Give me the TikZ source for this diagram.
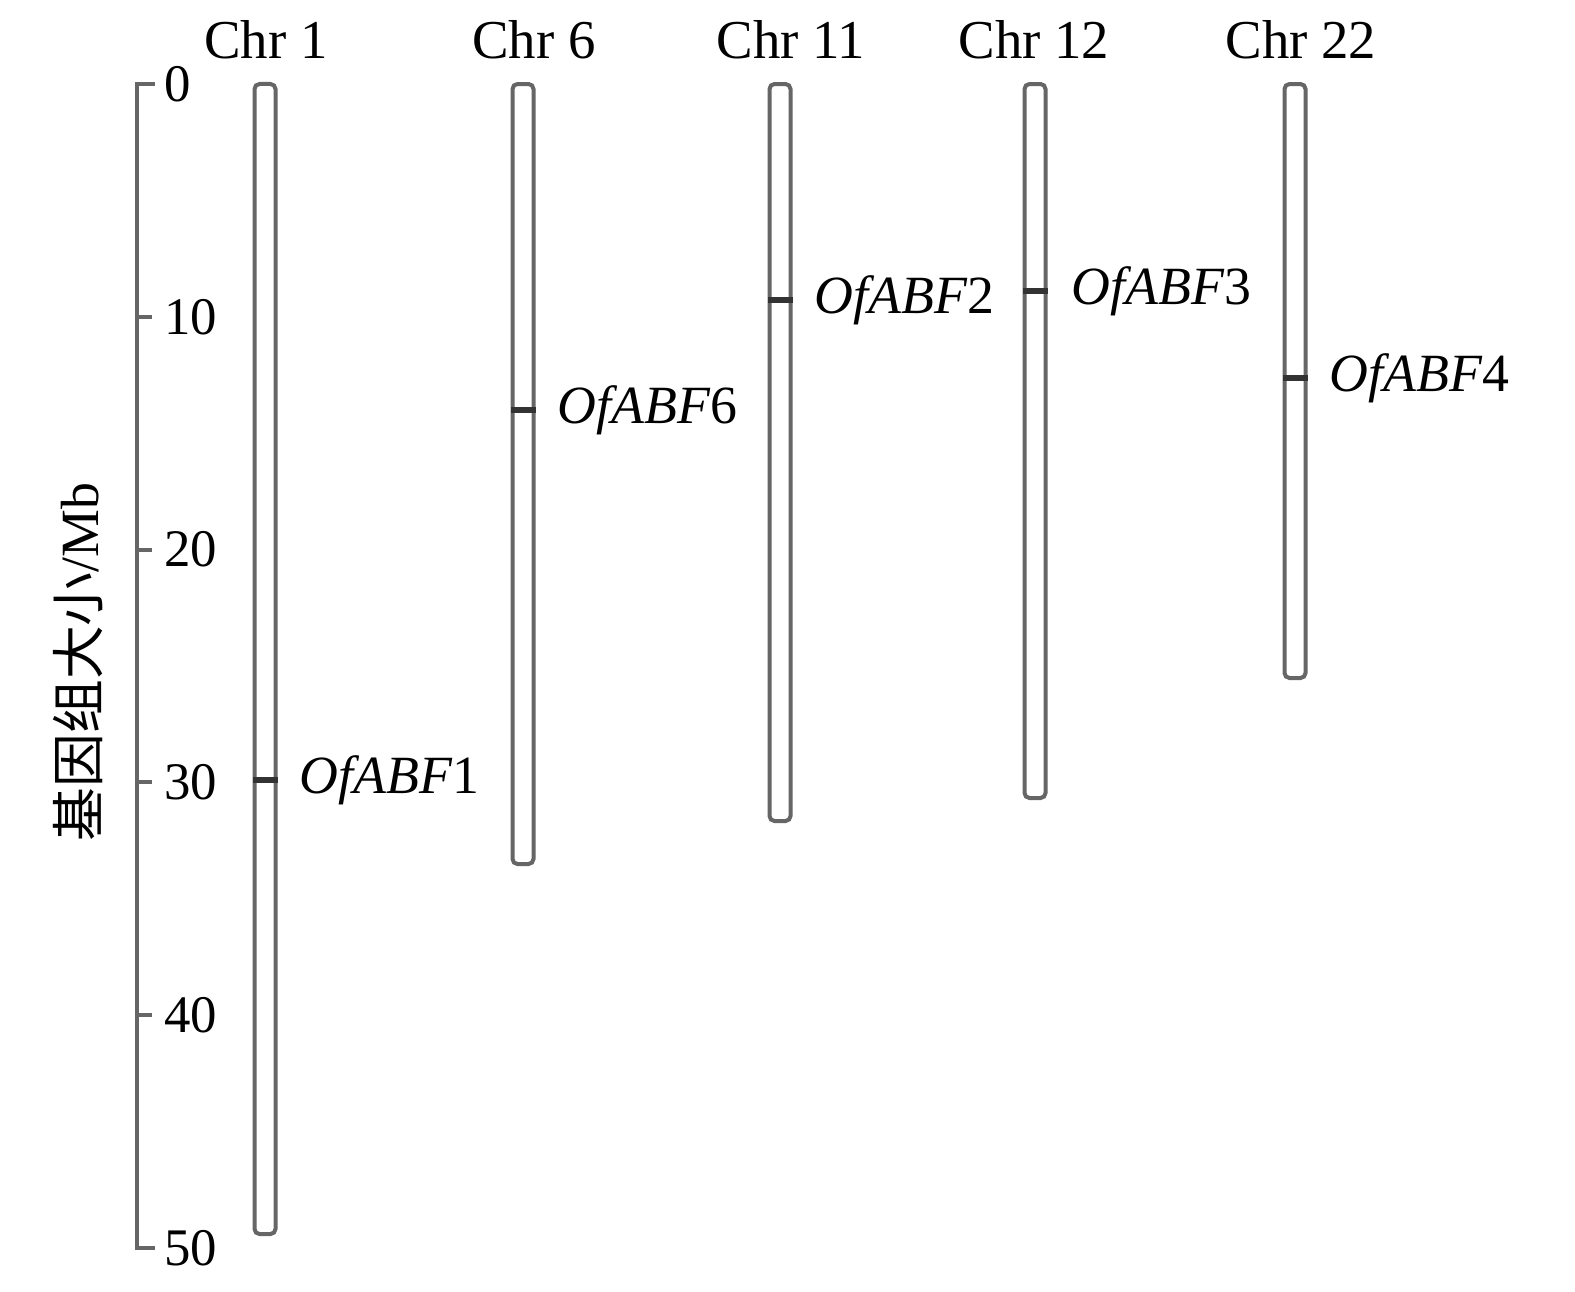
\documentclass[tikz,border=0pt]{standalone}
\usepackage{fontspec}
\setmainfont{Liberation Serif}
\newfontfamily\cjk{Noto Sans CJK SC}
\begin{document}
\begin{tikzpicture}[x=1bp,y=-1bp,
  chrom/.style={draw=black!60, line width=4bp, rounded corners=5bp, minimum width=21bp, inner sep=0pt, fill=white},
  band/.style={draw=black!80, line width=6bp},
  axisline/.style={draw=black!60, line width=4bp},
  tlabel/.style={anchor=west, inner sep=0pt, font=\fontsize{53}{58}\selectfont},
  title/.style={inner sep=0pt, font=\fontsize{55}{60}\selectfont},
  glabel/.style={anchor=west, inner sep=0pt, font=\fontsize{54}{60}\selectfont}]
\useasboundingbox (0,0) rectangle (1575,1291);
% axis
\coordinate (a0) at (137,84);
\coordinate (a50) at (137,1248);
\draw[axisline] (155,84) -- (a0) -- (a50) -- (155,1248);
\foreach \v in {10,20,30,40} {
  \draw[axisline] (137,{84+23.28*\v}) -- (152,{84+23.28*\v});
}
\foreach \v in {0,10,20,30,40,50} {
  \node[tlabel] (t\v) at (164,{84+23.28*\v}) {\v};
}
\node[rotate=90, inner sep=0pt, font=\fontsize{54}{60}\selectfont] (ylab) at (78,662) {{\cjk 基因组大小}/Mb};
% chromosomes
\node[chrom, minimum height=1150bp] (c1) at (265,{(84+1234)/2}) {};
\node[chrom, minimum height=780bp] (c6) at (523,{(84+864)/2}) {};
\node[chrom, minimum height=737bp] (c11) at (780,{(84+821)/2}) {};
\node[chrom, minimum height=714bp] (c12) at (1035,{(84+798)/2}) {};
\node[chrom, minimum height=594bp] (c22) at (1295,{(84+678)/2}) {};
% titles
\node[title] (h1) at (266,40) {Chr 1};
\node[title] (h6) at (534,40) {Chr 6};
\node[title] (h11) at (791,40) {Chr 11};
\node[title] (h12) at (1034,40) {Chr 12};
\node[title] (h22) at (1301,40) {Chr 22};
% bands
\coordinate (g1) at (265,780);
\coordinate (g6) at (523,410);
\coordinate (g2) at (780,300);
\coordinate (g3) at (1035,291);
\coordinate (g4) at (1295,378);
\draw[band] (c1.west |- g1) -- (c1.east |- g1);
\draw[band] (c6.west |- g6) -- (c6.east |- g6);
\draw[band] (c11.west |- g2) -- (c11.east |- g2);
\draw[band] (c12.west |- g3) -- (c12.east |- g3);
\draw[band] (c22.west |- g4) -- (c22.east |- g4);
% gene labels
\node[glabel] (l1) at ([xshift=22bp]c1.east |- g1) {\textit{OfABF}1};
\node[glabel] (l6) at ([xshift=22bp]c6.east |- g6) {\textit{OfABF}6};
\node[glabel] (l2) at ([xshift=22bp]c11.east |- g2) {\textit{OfABF}2};
\node[glabel] (l3) at ([xshift=24bp]c12.east |- g3) {\textit{OfABF}3};
\node[glabel] (l4) at ([xshift=22bp]c22.east |- g4) {\textit{OfABF}4};
\end{tikzpicture}
\end{document}
